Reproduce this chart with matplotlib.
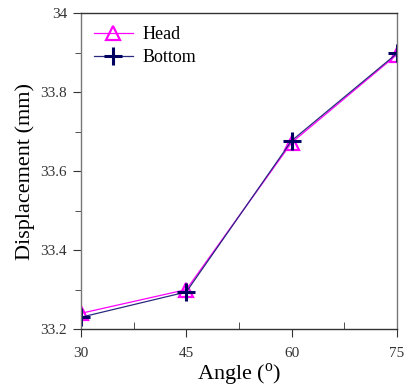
import matplotlib.pyplot as plt
from matplotlib.ticker import MultipleLocator

plt.rcParams['font.family'] = ['Liberation Serif', 'DejaVu Serif']
plt.rcParams['mathtext.fontset'] = 'custom'
plt.rcParams['mathtext.rm'] = 'Liberation Serif'

angle = [30, 45, 60, 75]
head = [33.24, 33.300, 33.672, 33.895]
bottom = [33.230, 33.294, 33.677, 33.898]

fig = plt.figure(figsize=(4.06, 3.89), dpi=100)
ax = fig.add_axes([0.1995, 0.154, 0.778, 0.812])

ax.plot(angle, head, color='#ff00ff', lw=0.9, marker='^', ms=10, mfc='none',
        mec='#ff00ff', mew=1.6, label='Head')
ax.plot(angle, bottom, color='#2a2a80', lw=0.9, marker='+', ms=13,
        mec='#000060', mew=2.2, label='Bottom')

ax.set_xlim(30, 75)
ax.set_ylim(33.2, 34)
ax.xaxis.set_major_locator(MultipleLocator(15))
ax.xaxis.set_minor_locator(MultipleLocator(7.5))
ax.yaxis.set_minor_locator(MultipleLocator(0.1))
ax.set_yticks([33.2, 33.4, 33.6, 33.8, 34])
ax.set_yticklabels(['33.2', '33.4', '33.6', '33.8', '34'])

ax.tick_params(axis='x', which='major', direction='out', length=6, pad=7,
               labelsize=11, colors='#333333')
ax.tick_params(axis='x', which='minor', direction='in', length=5, color='#333333')
ax.tick_params(axis='y', which='major', direction='out', length=6, pad=4,
               labelsize=11, colors='#333333')
ax.tick_params(axis='y', which='minor', direction='out', length=4, color='#333333')

for s in ['left', 'right']:
    ax.spines[s].set_color('#777777')
for s in ['top', 'bottom']:
    ax.spines[s].set_color('#333333')
for s in ax.spines.values():
    s.set_linewidth(1.0)

ax.set_xlabel('Angle ($^{\\rm o}$)', fontsize=16, labelpad=1)
ax.set_ylabel('Displacement (mm)', fontsize=16, labelpad=4)

ax.legend(loc='upper left', frameon=False, fontsize=13, handlelength=2.2,
          borderaxespad=0.3, labelspacing=0.35, handletextpad=0.5)

fig.savefig('out.png', dpi=100)
